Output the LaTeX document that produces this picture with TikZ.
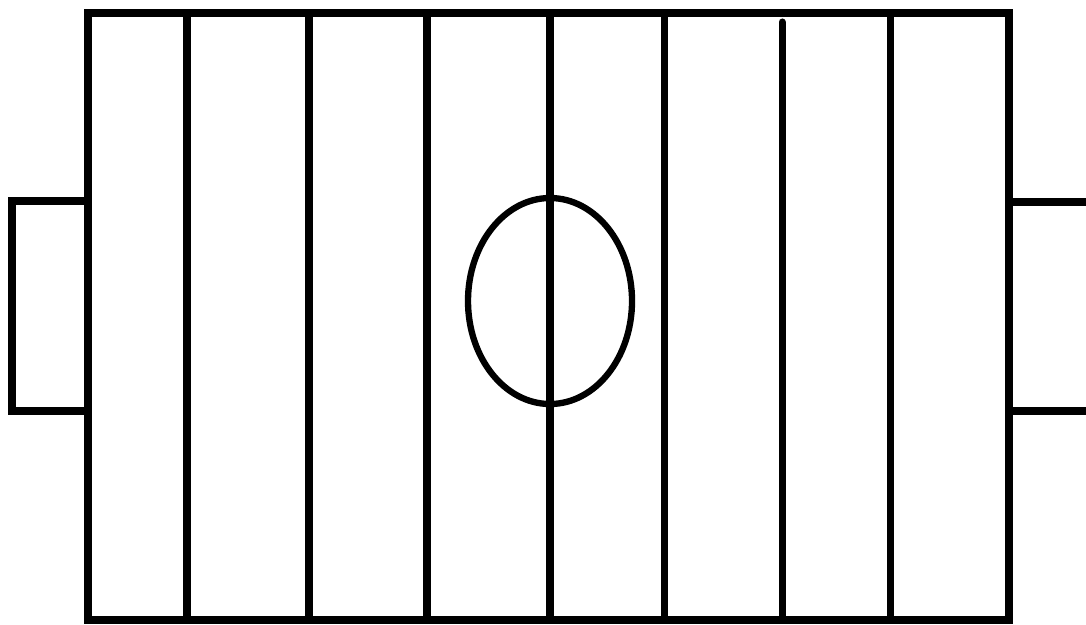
\documentclass[tikz,border=0pt]{standalone}
\usepackage{tikz}

\begin{document}
\begin{tikzpicture}[
  x=0.01cm, y=-0.01cm,
  frame/.style={draw, line width=2.3pt},
  rod/.style={draw, line width=2pt},
  ring/.style={draw, line width=1.8pt}
]
\clip (0,0) rectangle (1086,624);
% goals
\draw[frame] (88,201) -- (12,201) -- (12,411) -- (88,411);
\draw[frame] (1009,202) -- (1100,202);
\draw[frame] (1009,411) -- (1100,411);
% field
\draw[frame] (88,13) rectangle (1009,620);
% rods
\foreach \x in {187,309,427,550,664,890}
  \draw[rod] (\x,13) -- (\x,620);
\draw[rod, line cap=round] (782,22) -- (782,620);
% centre circle
\draw[ring] (550,301) ellipse (82 and 103);
\end{tikzpicture}
\end{document}
